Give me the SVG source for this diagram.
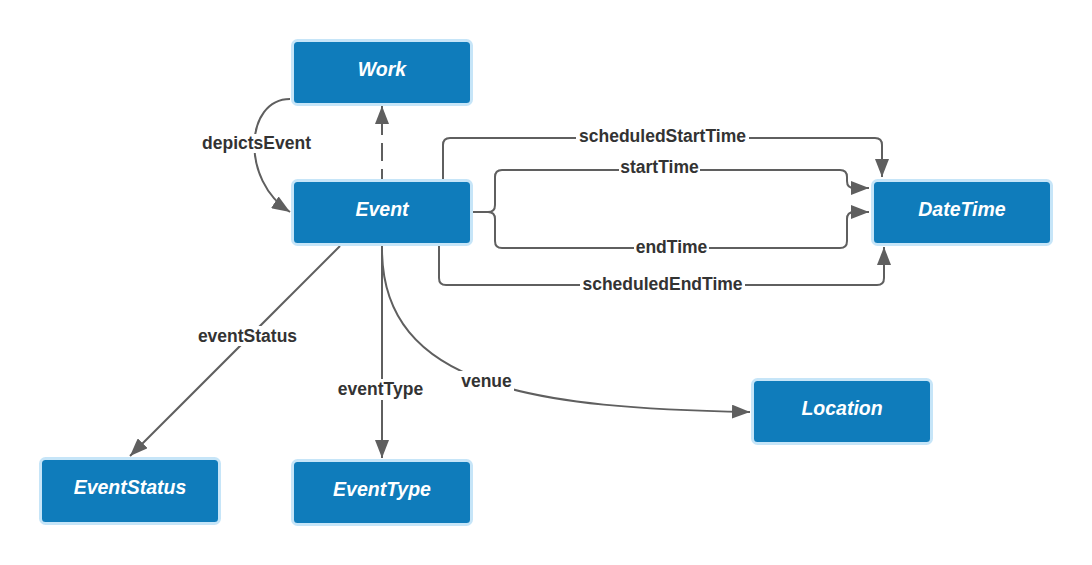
<svg xmlns="http://www.w3.org/2000/svg" width="1092" height="565" viewBox="0 0 1092 565">
<style>
.node rect{fill:#0f7cbb;stroke:#c6e5f8;stroke-width:3}
.node text{font-family:"Liberation Sans",Arial,sans-serif;font-size:19.5px;font-weight:bold;font-style:italic;fill:#ffffff;text-anchor:middle}
.edge{fill:none;stroke:#5f5f5f;stroke-width:2}
.lbg{fill:#ffffff}
.lbl{font-family:"Liberation Sans",Arial,sans-serif;font-size:17.5px;font-weight:bold;fill:#333333;text-anchor:middle}
</style>
<defs>
<marker id="arr" markerUnits="userSpaceOnUse" markerWidth="19" markerHeight="14" refX="18" refY="7" orient="auto">
<path d="M0,0 L18,7 L0,14 Z" fill="#5f5f5f"/>
</marker>
</defs>
<rect width="1092" height="565" fill="#ffffff"/>
<g id="connectors">
<path class="edge" d="M290,99 C245,99 240,180 290,212" marker-end="url(#arr)"/>
<path class="edge" d="M382,179 L382,106" stroke-dasharray="18,8" stroke-dashoffset="8" marker-end="url(#arr)"/>
<path class="edge" d="M443,179 L443,145 Q443,138 450,138 L875,138 Q882,138 882,145 L882,177" marker-end="url(#arr)"/>
<path class="edge" d="M473,212 L488,212 Q495,212 495,205 L495,177 Q495,170 502,170 L840,170 Q847,170 847,177 L847,181 Q847,188 854,188 L869,188" marker-end="url(#arr)"/>
<path class="edge" d="M473,212 L488,212 Q495,212 495,219 L495,241 Q495,248 502,248 L840,248 Q847,248 847,241 L847,219 Q847,212 854,212 L869,212" marker-end="url(#arr)"/>
<path class="edge" d="M439,246 L439,278 Q439,285 446,285 L877,285 Q884,285 884,278 L884,247" marker-end="url(#arr)"/>
<path class="edge" d="M340,246 L130,456" marker-end="url(#arr)"/>
<path class="edge" d="M382,246 L382,458" marker-end="url(#arr)"/>
<path class="edge" d="M382,246 C380,390 540,408 750,412" marker-end="url(#arr)"/>
<g id="edge-labels">
<rect class="lbg" x="200" y="134" width="113" height="19"/>
<text class="lbl" x="256.5" y="148.5">depictsEvent</text>
<rect class="lbg" x="576" y="128" width="173" height="18"/>
<text class="lbl" x="662.5" y="141.5">scheduledStartTime</text>
<rect class="lbg" x="619" y="160" width="81" height="18"/>
<text class="lbl" x="659.5" y="173">startTime</text>
<rect class="lbg" x="634" y="240" width="75" height="17"/>
<text class="lbl" x="671.5" y="253">endTime</text>
<rect class="lbg" x="580" y="276" width="165" height="18"/>
<text class="lbl" x="662.5" y="290">scheduledEndTime</text>
<rect class="lbg" x="196" y="326" width="103" height="20"/>
<text class="lbl" x="247.5" y="342">eventStatus</text>
<rect class="lbg" x="336" y="379" width="89" height="21"/>
<text class="lbl" x="380.5" y="395">eventType</text>
<rect class="lbg" x="459" y="371" width="55" height="21"/>
<text class="lbl" x="486.5" y="387">venue</text>
</g>
</g>
<g id="node-work" class="node">
<rect x="292.5" y="40.5" width="179" height="64" rx="5"/>
<text x="382" y="76">Work</text>
</g>
<g id="node-event" class="node">
<rect x="292.5" y="180.5" width="179" height="64" rx="5"/>
<text x="382" y="216">Event</text>
</g>
<g id="node-datetime" class="node">
<rect x="872.5" y="180.5" width="179" height="64" rx="5"/>
<text x="962" y="216">DateTime</text>
</g>
<g id="node-eventstatus" class="node">
<rect x="40.5" y="458.5" width="179" height="65" rx="5"/>
<text x="130" y="494">EventStatus</text>
</g>
<g id="node-eventtype" class="node">
<rect x="292.5" y="460.5" width="179" height="64" rx="5"/>
<text x="382" y="496">EventType</text>
</g>
<g id="node-location" class="node">
<rect x="752.5" y="379.5" width="179" height="64" rx="5"/>
<text x="842" y="415">Location</text>
</g>
</svg>
